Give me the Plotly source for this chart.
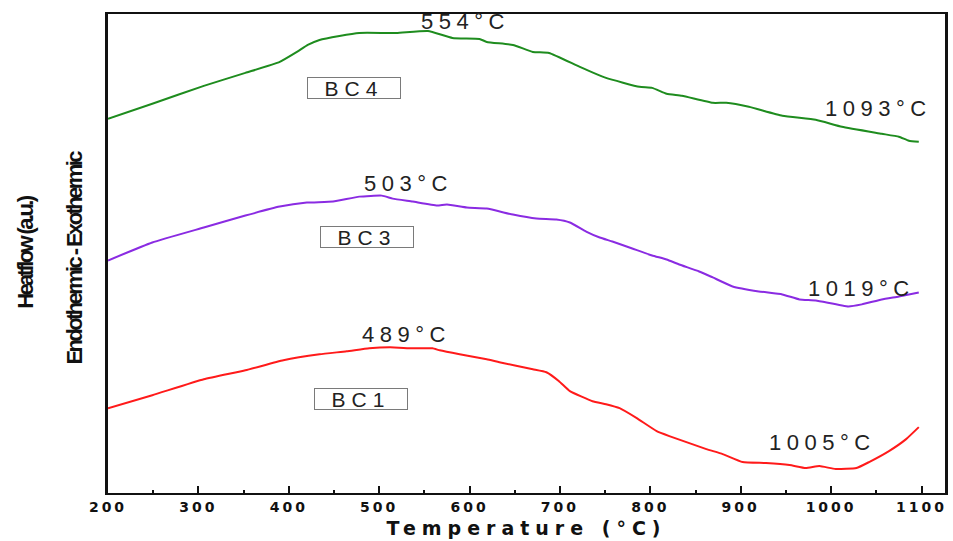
import plotly.graph_objects as go

# ---- data ----
temp_bc4 = [200, 249, 306, 352, 390, 409, 421, 434, 456, 478, 519, 554, 581, 611, 619, 648, 670, 688,
            722, 751, 788, 802, 818, 835, 869, 884, 909, 946, 983, 1012, 1056, 1075, 1086, 1097]
heat_bc4 = [375, 390, 408, 421, 432, 442, 449, 454, 458, 461, 461, 463, 456, 455, 452, 449, 442, 441,
            427, 416, 407, 406, 400, 398, 391, 391, 387, 378, 374, 367, 360, 357, 353, 352]

temp_bc3 = [200, 249, 306, 352, 390, 420, 449, 478, 503, 515, 537, 564, 575, 597, 619, 648, 674, 696, 711,
            729, 744, 758, 780, 802, 818, 832, 854, 869, 891, 920, 946, 965, 983, 1019, 1034, 1056, 1075, 1097]
heat_bc3 = [233, 251, 266, 278, 287, 291, 292, 297, 298, 295, 292, 288, 289, 286, 285, 279, 275, 274, 271,
            262, 256, 252, 245, 238, 234, 229, 222, 216, 207, 202, 199, 194, 193, 187, 189, 194, 197, 201]

temp_bc1 = [200, 249, 306, 352, 394, 434, 464, 489, 512, 537, 559, 567, 589, 619, 633, 670, 685, 699, 711,
            736, 751, 766, 785, 807, 821, 862, 880, 902, 928, 954, 972, 987, 1005, 1028, 1042, 1064, 1083, 1097]
heat_bc1 = [85, 98, 114, 123, 133, 139, 142, 145, 146, 145, 145, 143, 139, 134, 131, 124, 121, 112, 102,
            92, 89, 85, 75, 62, 57, 44, 39, 31, 30, 28, 25, 27, 24, 25, 31, 42, 54, 66]

series_names = ["BC4", "BC3", "BC1"]
series_colors = ["#1e8c1e", "#8a2be2", "#ff1a1a"]

tick_vals = [200, 300, 400, 500, 600, 700, 800, 900, 1000, 1100]
tick_text = ["200", "300", "400", "500", "600", "700", "800", "900", "1000", "1100"]

peak_labels = ["554°C", "503°C", "489°C"]
end_labels = ["1093°C", "1019°C", "1005°C"]

# ---- figure ----
fig = go.Figure()
for t, h, name, col in zip([temp_bc4, temp_bc3, temp_bc1], [heat_bc4, heat_bc3, heat_bc1],
                           series_names, series_colors):
    fig.add_trace(go.Scatter(x=t, y=h, mode="lines", name=name,
                             line=dict(color=col, width=2, shape="spline", smoothing=0.4),
                             showlegend=False, hoverinfo="skip"))

def spaced(s, ls):
    return '<span style="letter-spacing:%spx">%s</span>' % (ls, s)

ann_font = dict(family="Liberation Sans, Arial, sans-serif", size=22, color="#222222")
annotations = []
# peak / end temperature labels
peak_pos = [(596, 472), (533, 310), (530, 159)]
end_pos = [(1052, 385), (1034, 205), (990, 51)]
for txt, (x, y) in zip(peak_labels + end_labels, peak_pos + end_pos):
    annotations.append(dict(x=x, y=y, xref="x", yref="y", text=spaced(txt, 5.5), showarrow=False,
                            font=ann_font, xanchor="center", yanchor="middle"))
# boxed sample names
box_pos = [(472, 406), (486, 257), (480, 94)]
for txt, (x, y) in zip(series_names, box_pos):
    annotations.append(dict(x=x, y=y, xref="x", yref="y", text=spaced(txt, 6), showarrow=False,
                            font=dict(family="Liberation Sans, Arial, sans-serif", size=21, color="#222222"),
                            bordercolor="#7a7a7a", borderwidth=1, bgcolor="white",
                            width=88, height=16, borderpad=2, align="center",
                            xanchor="center", yanchor="middle"))
# rotated y-axis titles
ytitle_font = dict(family="Liberation Sans Narrow, Arial Narrow, Liberation Sans, sans-serif",
                   size=22, color="#111111", weight="bold")
annotations.append(dict(x=25, y=252, xref="paper", yref="paper", text=spaced("Heatflow (a.u.)", -2.6),
                        textangle=-90, showarrow=False, font=ytitle_font,
                        xanchor="center", yanchor="middle"))
annotations.append(dict(x=74, y=258, xref="paper", yref="paper",
                        text=spaced("Endothermic - Exothermic", -2.6),
                        textangle=-90, showarrow=False, font=ytitle_font,
                        xanchor="center", yanchor="middle"))

# convert pixel positions of y titles to paper coords
W, H = 953, 541
ml, mr, mt, mb = 108, 5, 14, 47
pw, ph = W - ml - mr, H - mt - mb
for a in annotations[-2:]:
    a["x"] = (a["x"] - ml) / pw
    a["y"] = 1 - (a["y"] - mt) / ph

fig.update_layout(
    width=W, height=H,
    margin=dict(l=ml, r=mr, t=mt, b=mb, pad=0),
    paper_bgcolor="white", plot_bgcolor="white",
    annotations=annotations,
    xaxis=dict(range=[200, 1126], showgrid=False, zeroline=False,
               tickmode="array", tickvals=tick_vals, ticktext=[spaced(t, 3) for t in tick_text],
               ticks="inside", ticklen=7, tickwidth=2, tickcolor="#111111",
               minor=dict(ticks="inside", ticklen=3, tickwidth=2, tickcolor="#111111", dtick=50,
                          tick0=200, showgrid=False),
               tickfont=dict(family="DejaVu Sans, sans-serif", size=14, color="#111111", weight="bold"),
               showline=True, linecolor="#111111", linewidth=2, mirror=True,
               title=dict(text=spaced("Temperature (°C)", 6),
                          font=dict(family="DejaVu Sans, sans-serif", size=19, color="#111111",
                                    weight="bold"),
                          standoff=8)),
    yaxis=dict(range=[0, 480], showgrid=False, zeroline=False, showticklabels=False, ticks="",
               showline=True, linecolor="#111111", linewidth=3, mirror=True),
)

fig.write_html("out.html")
